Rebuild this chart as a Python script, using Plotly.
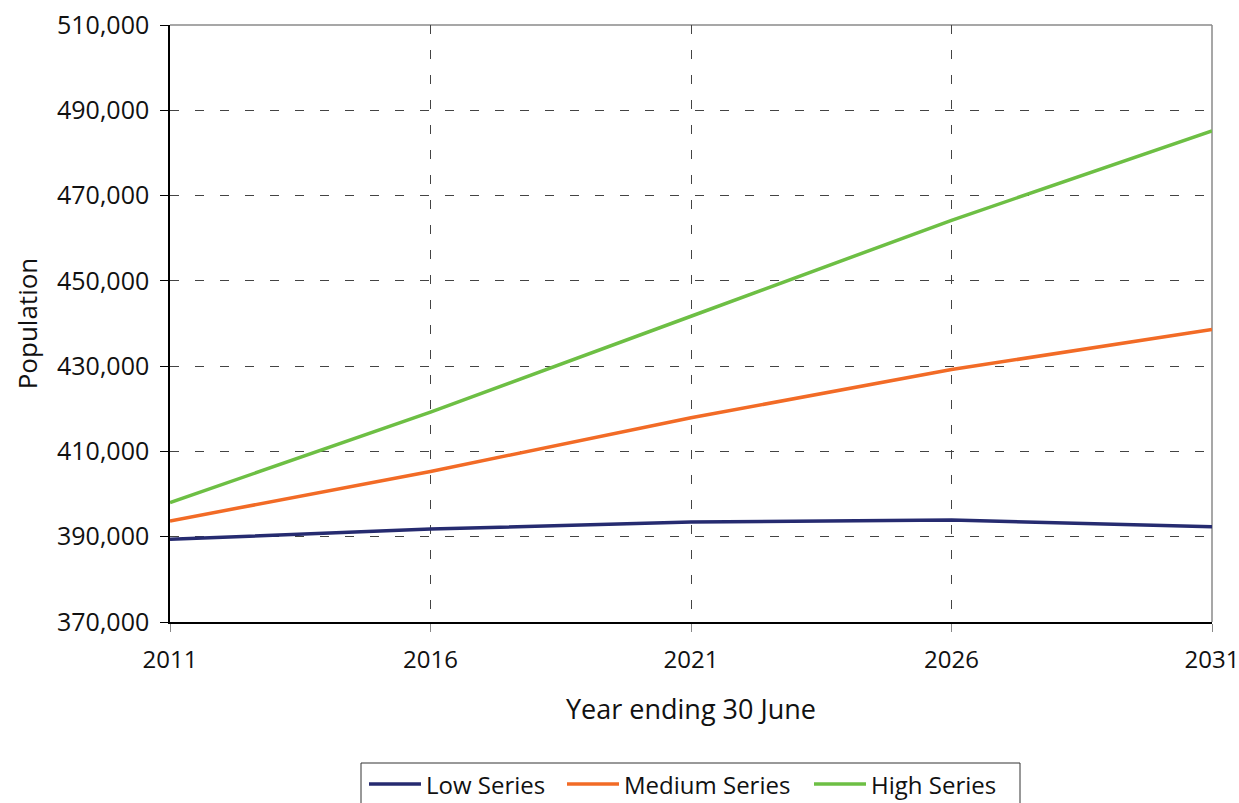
import plotly.graph_objects as go

# Projected population by year ending 30 June
years = [2011, 2016, 2021, 2026, 2031]
low_series = [389400, 391800, 393450, 393930, 392350]
medium_series = [393700, 405300, 417900, 429200, 438600]
high_series = [398000, 419200, 441700, 464200, 485150]

y_ticks = [370000, 390000, 410000, 430000, 450000, 470000, 490000, 510000]

series_names = ["Low Series", "Medium Series", "High Series"]
series_colors = ["#262B70", "#F26B26", "#6DBF44"]
series_values = [low_series, medium_series, high_series]

FONT = "Open Sans"
W, H = 1239, 803
M_L, M_R, M_T, M_B = 170, 27, 25, 181
PW, PH = W - M_L - M_R, H - M_T - M_B


def px_to_paper(x, y):
    """Convert page pixel position to paper coordinates of the plot area."""
    return (x - M_L) / PW, (H - M_B - y) / PH


fig = go.Figure()
for name, vals, color in zip(series_names, series_values, series_colors):
    fig.add_trace(go.Scatter(
        x=years, y=vals, name=name, mode="lines",
        line=dict(color=color, width=3.5), showlegend=False,
    ))

fig.update_layout(
    width=W, height=H,
    margin=dict(l=M_L, r=M_R, t=M_T, b=M_B, autoexpand=False),
    paper_bgcolor="white", plot_bgcolor="white",
    font=dict(family=FONT, size=25, color="#111"),
)

fig.update_xaxes(
    range=[2011, 2031], tickvals=years, ticktext=[str(y) for y in years],
    tickfont=dict(size=24),
    showline=True, linecolor="black", linewidth=1.5,
    ticks="outside", ticklen=8, tickcolor="#888",
    ticklabelstandoff=7, ticklabeloverflow="allow",
    showgrid=True, gridcolor="#444", gridwidth=1, griddash="9px,16px",
    zeroline=False, automargin=False,
    title=dict(text="Year ending 30 June", font=dict(size=27), standoff=27),
)
fig.update_yaxes(
    range=[370000, 510000], tickvals=y_ticks,
    ticktext=[f"{v:,}" for v in y_ticks],
    showline=True, linecolor="black", linewidth=1.5,
    ticks="outside", ticklen=8, tickcolor="black",
    ticklabelstandoff=6, ticklabeloverflow="allow",
    showgrid=True, gridcolor="#444", gridwidth=1, griddash="9px,16px",
    zeroline=False, automargin=False,
    title=dict(text="Population", font=dict(size=26), standoff=12),
)

# Grey frame along the top and right edges of the plot area
fig.add_shape(type="line", xref="paper", yref="paper", x0=0, x1=1, y0=1, y1=1,
              line=dict(color="#8a8a8a", width=1.5), layer="between")
fig.add_shape(type="line", xref="paper", yref="paper", x0=1, x1=1, y0=0, y1=1,
              line=dict(color="#8a8a8a", width=1.5), layer="between")

# Legend box with line samples and labels
bx0, by0 = px_to_paper(361, 763)
bx1, by1 = px_to_paper(1020, 812)
fig.add_shape(type="rect", xref="paper", yref="paper",
              x0=bx0, x1=bx1, y0=by1, y1=by0,
              line=dict(color="#333", width=1), fillcolor="white")
legend_line_x = [369, 567, 814]
legend_y = 784
for lx, name, color in zip(legend_line_x, series_names, series_colors):
    x0, yy = px_to_paper(lx, legend_y)
    x1, _ = px_to_paper(lx + 52, legend_y)
    fig.add_shape(type="line", xref="paper", yref="paper",
                  x0=x0, x1=x1, y0=yy, y1=yy,
                  line=dict(color=color, width=3.5))
    tx, _ = px_to_paper(lx + 55, legend_y)
    fig.add_annotation(xref="paper", yref="paper", x=tx, y=yy,
                       text=name, showarrow=False, xanchor="left",
                       yanchor="middle", font=dict(size=24, color="#111"))

fig.write_html("out.html")
